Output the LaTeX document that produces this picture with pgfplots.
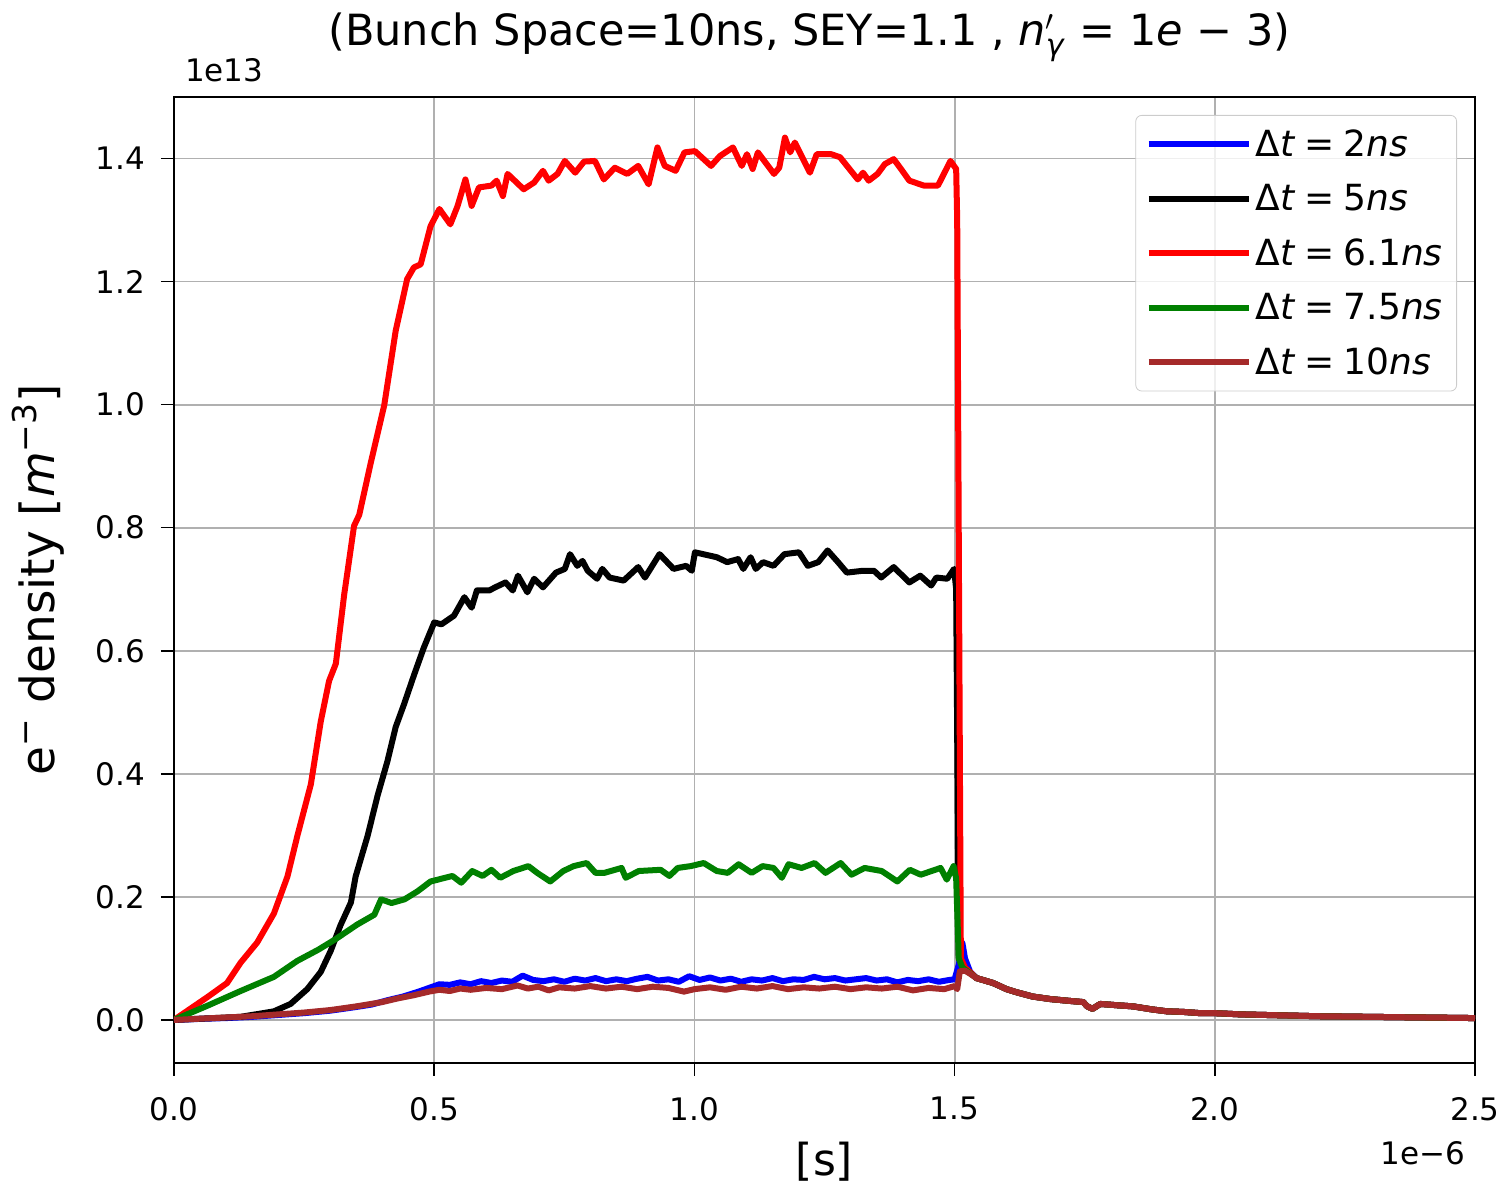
\documentclass[border=0pt]{standalone}
\usepackage{fontspec}
\setmainfont{DejaVu Sans}
\usepackage{pgfplots}
\pgfplotsset{compat=1.18}
\definecolor{mplgrid}{RGB}{176,176,176}
\definecolor{mplbrown}{RGB}{165,42,42}
\definecolor{mplgreen}{RGB}{0,128,0}
\begin{document}
\begin{tikzpicture}
\begin{axis}[
  scale only axis,
  width=650.5pt, height=483pt,
  xmin=0, xmax=2.5, ymin=-0.07, ymax=1.5,
  xtick={0,0.5,1,1.5,2,2.5},
  ytick={0,0.2,0.4,0.6,0.8,1.0,1.2,1.4},
  tick align=outside, xtick pos=bottom, ytick pos=left,
  major tick length=6.5pt,
  every tick/.style={black, line width=0.8pt},
  axis line style={line width=0.8pt},
  grid=major,
  major grid style={mplgrid, line width=0.9pt},
  ticklabel style={font=\fontsize{15.5}{18}\selectfont},
  xticklabel style={yshift=-7pt, /pgf/number format/.cd, fixed, fixed zerofill, precision=1, assume math mode=true},
  yticklabel style={xshift=-4.5pt, /pgf/number format/.cd, fixed, fixed zerofill, precision=1, assume math mode=true},
  scaled ticks=false,
  xlabel={[s]},
  xlabel style={font=\fontsize{22}{26}\selectfont, at={(axis description cs:0.5,-0.1025)}, anchor=center},
  ylabel={e\textsuperscript{−} density [\textit{m}\textsuperscript{−3}]},
  ylabel style={font=\fontsize{23.5}{27}\selectfont, at={(axis description cs:-0.1045,0.5)}, anchor=center},
  title={(Bunch Space=10ns, SEY=1.1 , \textit{n}$'_{\hbox{\fontsize{15}{15}\selectfont\textit{γ}}}$ = 1\textit{e} − 3)},
  title style={font=\fontsize{21.5}{25}\selectfont, at={(axis description cs:0.5,1.0495)}, anchor=center, xshift=-7.5pt},
  legend style={at={(axis description cs:1,1)}, anchor=north east, xshift=-9pt, yshift=-9pt,
    font=\fontsize{18}{21}\selectfont, draw={black!20}, rounded corners=3pt, fill=white, fill opacity=0.8, text opacity=1,
    row sep=8.5pt, inner sep=5pt},
  legend cell align=left,
  legend image code/.code={\draw[#1, line width=3pt] (0pt,0pt) -- (40pt,0pt); \path (0pt,0pt) -- (50pt,0pt);},
  every axis plot/.append style={line width=3pt, line join=round},
]
\coordinate (SW) at (rel axis cs:0,0);
\coordinate (NE) at (rel axis cs:1,1);
% blue
\addplot[blue] coordinates {(0,0)(0.03,0.001)(0.06,0.002)(0.1,0.003)(0.15,0.005)(0.2,0.008)(0.25,0.011)(0.3,0.015)(0.35,0.021)(0.38,0.025)(0.41,0.032)(0.44,0.038)(0.47,0.046)(0.49,0.052)(0.51,0.058)(0.53,0.057)(0.55,0.061)(0.57,0.058)(0.59,0.063)(0.61,0.06)(0.63,0.064)(0.65,0.062)(0.67,0.072)(0.69,0.065)(0.71,0.063)(0.73,0.066)(0.75,0.062)(0.77,0.067)(0.79,0.064)(0.81,0.068)(0.83,0.063)(0.85,0.066)(0.87,0.063)(0.89,0.067)(0.91,0.07)(0.93,0.064)(0.95,0.066)(0.97,0.062)(0.99,0.071)(1.01,0.065)(1.03,0.069)(1.05,0.064)(1.07,0.067)(1.09,0.062)(1.11,0.066)(1.13,0.064)(1.15,0.068)(1.17,0.063)(1.19,0.066)(1.21,0.065)(1.23,0.07)(1.25,0.066)(1.27,0.068)(1.29,0.064)(1.31,0.066)(1.33,0.068)(1.35,0.064)(1.37,0.066)(1.39,0.061)(1.41,0.065)(1.43,0.063)(1.45,0.066)(1.47,0.062)(1.49,0.065)(1.5,0.066)(1.508,0.09)(1.515,0.125)(1.52,0.1)(1.53,0.078)(1.542,0.068)(1.574,0.06)(1.6,0.05)(1.619,0.045)(1.65,0.038)(1.683,0.034)(1.72,0.031)(1.747,0.029)(1.755,0.022)(1.765,0.018)(1.78,0.026)(1.81,0.024)(1.843,0.022)(1.88,0.017)(1.908,0.014)(1.94,0.013)(1.972,0.011)(2.0,0.011)(2.05,0.009)(2.1,0.008)(2.2,0.006)(2.3,0.005)(2.4,0.004)(2.5,0.003)};
\addlegendentry{Δ\textit{t}\kern0.25em=\kern0.25em2\textit{ns}}
% black
\addplot[black] coordinates {(0,0)(0.128,0.005)(0.192,0.014)(0.224,0.026)(0.256,0.05)(0.282,0.078)(0.301,0.112)(0.32,0.154)(0.34,0.191)(0.349,0.233)(0.372,0.299)(0.391,0.364)(0.41,0.42)(0.426,0.476)(0.442,0.513)(0.461,0.56)(0.48,0.605)(0.5,0.646)(0.514,0.643)(0.538,0.657)(0.558,0.687)(0.572,0.67)(0.582,0.698)(0.606,0.698)(0.617,0.703)(0.637,0.711)(0.651,0.698)(0.661,0.722)(0.679,0.695)(0.692,0.717)(0.709,0.703)(0.734,0.727)(0.751,0.733)(0.761,0.757)(0.775,0.738)(0.785,0.746)(0.795,0.73)(0.813,0.717)(0.823,0.733)(0.837,0.719)(0.864,0.714)(0.892,0.736)(0.905,0.719)(0.933,0.757)(0.96,0.733)(0.984,0.738)(0.995,0.73)(1.001,0.76)(1.043,0.752)(1.063,0.744)(1.084,0.749)(1.094,0.733)(1.108,0.752)(1.118,0.733)(1.132,0.744)(1.152,0.738)(1.173,0.757)(1.201,0.76)(1.218,0.738)(1.238,0.744)(1.256,0.763)(1.276,0.744)(1.293,0.727)(1.324,0.73)(1.345,0.73)(1.359,0.719)(1.383,0.736)(1.413,0.711)(1.434,0.722)(1.455,0.706)(1.465,0.719)(1.486,0.717)(1.499,0.733)(1.503,0.7)(1.508,0.1)(1.518,0.086)(1.542,0.068)(1.574,0.06)(1.6,0.05)(1.619,0.045)(1.65,0.038)(1.683,0.034)(1.72,0.031)(1.747,0.029)(1.755,0.022)(1.765,0.018)(1.78,0.026)(1.81,0.024)(1.843,0.022)(1.88,0.017)(1.908,0.014)(1.94,0.013)(1.972,0.011)(2.0,0.011)(2.05,0.009)(2.1,0.008)(2.2,0.006)(2.3,0.005)(2.4,0.004)(2.5,0.003)};
\addlegendentry{Δ\textit{t}\kern0.25em=\kern0.25em5\textit{ns}}
% red
\addplot[red] coordinates {(0,0)(0.064,0.037)(0.102,0.06)(0.128,0.093)(0.16,0.126)(0.192,0.173)(0.218,0.233)(0.237,0.299)(0.263,0.383)(0.282,0.485)(0.298,0.551)(0.311,0.579)(0.327,0.691)(0.346,0.803)(0.356,0.821)(0.378,0.905)(0.404,0.999)(0.426,1.12)(0.448,1.204)(0.461,1.223)(0.474,1.228)(0.493,1.29)(0.51,1.318)(0.531,1.293)(0.545,1.323)(0.56,1.366)(0.572,1.323)(0.586,1.353)(0.61,1.356)(0.62,1.364)(0.632,1.339)(0.641,1.375)(0.672,1.35)(0.692,1.361)(0.709,1.38)(0.72,1.364)(0.737,1.375)(0.751,1.396)(0.771,1.377)(0.788,1.395)(0.809,1.396)(0.826,1.366)(0.847,1.385)(0.871,1.375)(0.892,1.388)(0.912,1.358)(0.929,1.418)(0.943,1.388)(0.964,1.38)(0.981,1.41)(1.001,1.412)(1.032,1.388)(1.049,1.404)(1.074,1.418)(1.091,1.388)(1.101,1.407)(1.112,1.383)(1.122,1.41)(1.153,1.375)(1.163,1.385)(1.174,1.434)(1.184,1.41)(1.193,1.426)(1.222,1.377)(1.235,1.407)(1.263,1.407)(1.28,1.402)(1.314,1.366)(1.324,1.377)(1.335,1.364)(1.352,1.375)(1.366,1.391)(1.383,1.399)(1.397,1.383)(1.413,1.364)(1.441,1.356)(1.468,1.356)(1.492,1.396)(1.503,1.383)(1.505,1.3)(1.512,0.1)(1.52,0.085)(1.542,0.068)(1.574,0.06)(1.6,0.05)(1.619,0.045)(1.65,0.038)(1.683,0.034)(1.72,0.031)(1.747,0.029)(1.755,0.022)(1.765,0.018)(1.78,0.026)(1.81,0.024)(1.843,0.022)(1.88,0.017)(1.908,0.014)(1.94,0.013)(1.972,0.011)(2.0,0.011)(2.05,0.009)(2.1,0.008)(2.2,0.006)(2.3,0.005)(2.4,0.004)(2.5,0.003)};
\addlegendentry{Δ\textit{t}\kern0.25em=\kern0.25em6.1\textit{ns}}
% green
\addplot[mplgreen] coordinates {(0,0)(0.064,0.023)(0.128,0.047)(0.192,0.07)(0.237,0.096)(0.277,0.114)(0.31,0.131)(0.352,0.155)(0.385,0.171)(0.398,0.196)(0.418,0.19)(0.443,0.196)(0.468,0.209)(0.493,0.225)(0.535,0.234)(0.552,0.223)(0.573,0.242)(0.593,0.234)(0.61,0.244)(0.627,0.231)(0.652,0.242)(0.681,0.25)(0.698,0.239)(0.723,0.225)(0.748,0.242)(0.768,0.25)(0.793,0.255)(0.81,0.239)(0.827,0.239)(0.86,0.247)(0.868,0.231)(0.893,0.242)(0.935,0.244)(0.952,0.234)(0.968,0.247)(0.993,0.25)(1.018,0.255)(1.043,0.242)(1.064,0.239)(1.085,0.253)(1.11,0.239)(1.131,0.25)(1.152,0.247)(1.168,0.231)(1.181,0.253)(1.206,0.247)(1.231,0.255)(1.252,0.239)(1.281,0.255)(1.302,0.236)(1.327,0.247)(1.36,0.242)(1.39,0.225)(1.414,0.244)(1.435,0.236)(1.473,0.247)(1.485,0.228)(1.498,0.25)(1.503,0.23)(1.508,0.1)(1.515,0.085)(1.542,0.068)(1.574,0.06)(1.6,0.05)(1.619,0.045)(1.65,0.038)(1.683,0.034)(1.72,0.031)(1.747,0.029)(1.755,0.022)(1.765,0.018)(1.78,0.026)(1.81,0.024)(1.843,0.022)(1.88,0.017)(1.908,0.014)(1.94,0.013)(1.972,0.011)(2.0,0.011)(2.05,0.009)(2.1,0.008)(2.2,0.006)(2.3,0.005)(2.4,0.004)(2.5,0.003)};
\addlegendentry{Δ\textit{t}\kern0.25em=\kern0.25em7.5\textit{ns}}
% brown
\addplot[mplbrown] coordinates {(0,0)(0.05,0.002)(0.1,0.004)(0.15,0.006)(0.2,0.009)(0.25,0.012)(0.3,0.016)(0.35,0.022)(0.4,0.029)(0.43,0.035)(0.46,0.04)(0.49,0.046)(0.51,0.049)(0.53,0.047)(0.55,0.051)(0.57,0.049)(0.6,0.052)(0.63,0.05)(0.66,0.056)(0.68,0.051)(0.7,0.054)(0.72,0.048)(0.74,0.053)(0.77,0.051)(0.8,0.055)(0.83,0.051)(0.86,0.054)(0.89,0.05)(0.92,0.054)(0.95,0.052)(0.98,0.046)(1.0,0.05)(1.03,0.053)(1.06,0.049)(1.09,0.054)(1.12,0.051)(1.15,0.055)(1.18,0.05)(1.21,0.053)(1.24,0.051)(1.27,0.054)(1.3,0.05)(1.33,0.053)(1.36,0.051)(1.39,0.054)(1.42,0.048)(1.45,0.052)(1.48,0.05)(1.5,0.055)(1.505,0.05)(1.51,0.079)(1.52,0.08)(1.53,0.075)(1.542,0.068)(1.574,0.06)(1.6,0.05)(1.619,0.045)(1.65,0.038)(1.683,0.034)(1.72,0.031)(1.747,0.029)(1.755,0.022)(1.765,0.018)(1.78,0.026)(1.81,0.024)(1.843,0.022)(1.88,0.017)(1.908,0.014)(1.94,0.013)(1.972,0.011)(2.0,0.011)(2.05,0.009)(2.1,0.008)(2.2,0.006)(2.3,0.005)(2.4,0.004)(2.5,0.003)};
\addlegendentry{Δ\textit{t}\kern0.25em=\kern0.25em10\textit{ns}}
\end{axis}
\node[anchor=west, font=\fontsize{15.5}{18}\selectfont] at ([xshift=2pt,yshift=13.5pt]SW |- NE) {1e13};
\node[anchor=east, font=\fontsize{15.5}{18}\selectfont] at ([xshift=-1.5pt,yshift=-45pt]NE |- SW) {1e−6};
\pgfresetboundingbox
\path[use as bounding box] ([shift={(-87pt,-61.5pt)}]SW) rectangle ([shift={(16.5pt,48.5pt)}]NE);
\end{tikzpicture}
\end{document}
